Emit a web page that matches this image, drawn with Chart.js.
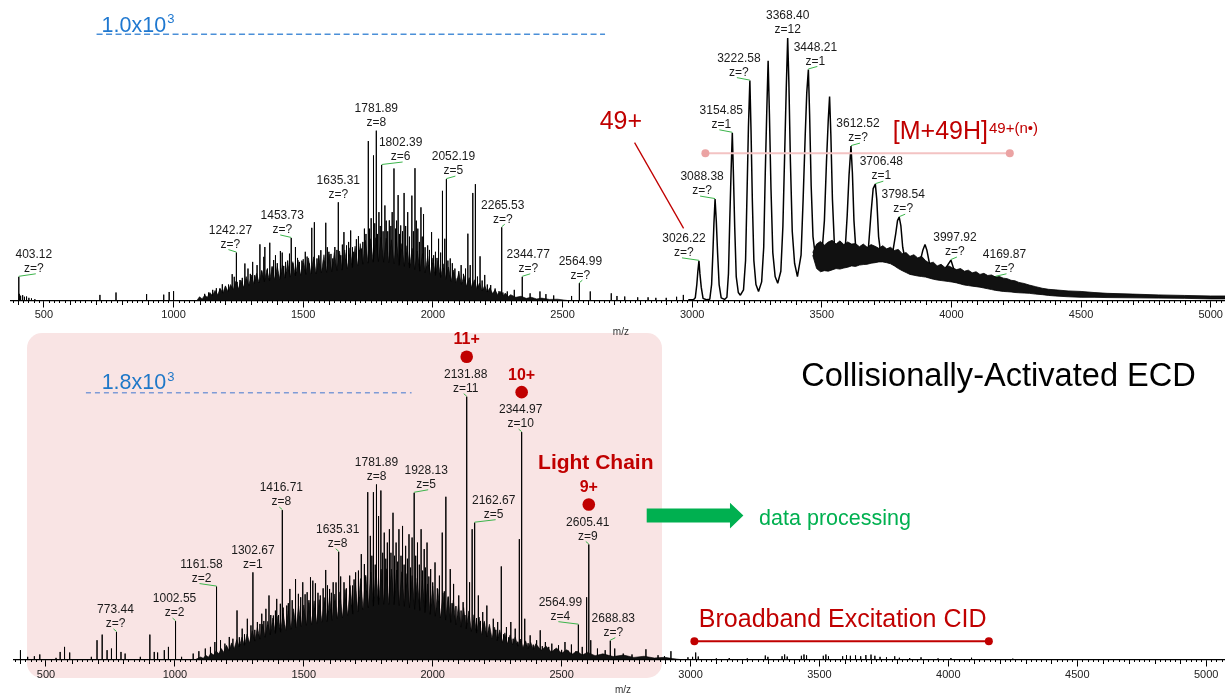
<!DOCTYPE html>
<html>
<head>
<meta charset="utf-8">
<title>Collisionally-Activated ECD</title>
<script src="https://cdn.jsdelivr.net/npm/chart.js@4.4.1/dist/chart.umd.min.js"></script>
<style>
  html, body { margin: 0; padding: 0; background: #fff; }
  #wrap { position: relative; width: 1225px; height: 696px; overflow: hidden; }
  #top { position: absolute; left: 0; top: 0; z-index: 2; }
  #bot { position: absolute; left: 0; top: 330px; z-index: 1; }
</style>
</head>
<body>
<div id="wrap">
  <canvas id="bot" width="1225" height="366" style="width:1225px;height:366px"></canvas>
  <canvas id="top" width="1225" height="345" style="width:1225px;height:345px"></canvas>
</div>
<script>
// ---------------------------------------------------------------
// Shared axis
// ---------------------------------------------------------------
const tickValues = [500, 1000, 1500, 2000, 2500, 3000, 3500, 4000, 4500, 5000];

// ---------------------------------------------------------------
// Upper spectrum (charge-reduced precursor, scale 1.0x10^3)
// ---------------------------------------------------------------
const topLabeledMz  = [403.12, 1242.27, 1453.73, 1635.31, 1781.89, 1802.39, 2052.19, 2265.53, 2344.77, 2564.99,
                       3026.22, 3088.38, 3154.85, 3222.58, 3368.40, 3448.21, 3612.52, 3706.48, 3798.54, 3997.92, 4169.87];
const topLabeledInt = [89, 180, 235, 369, 638, 509, 456, 275, 89, 65,
                       149, 381, 630, 826, 986, 868, 580, 437, 313, 152, 89];
const topLabeledZ   = ['?', '?', '?', '?', '8', '6', '5', '?', '?', '?',
                       '?', '?', '1', '?', '12', '1', '?', '1', '?', '?', '?'];

const topSticks = [
  [405,25],[410,18],[418,20],[425,14],[433,15],[442,10],[452,8],[465,5],
  [716,21],[778,30],[896,24],[962,22],[983,32],[1000,35],
  [1151,40],[1165,46],[1188,61],[1200,52],[1226,99],[1234,89],[1256,77],[1275,139],[1287,120],[1305,145],
  [1322,133],[1333,211],[1348,164],[1352,201],[1371,217],[1386,152],[1393,170],[1412,186],[1419,180],[1432,145],
  [1447,176],[1470,201],[1485,145],[1508,183],[1523,139],[1533,273],[1543,294],[1553,158],[1568,189],[1587,292],
  [1599,183],[1614,158],[1622,201],[1645,170],[1657,257],[1667,207],[1683,263],[1695,183],[1713,242],[1724,195],
  [1736,270],[1751,599],[1762,309],[1771,545],[1792,332],[1815,357],[1832,301],[1843,332],[1850,496],[1866,396],
  [1876,282],[1889,404],[1903,332],[1919,394],[1931,497],[1942,270],[1954,350],[1964,325],[1980,207],[1995,257],
  [2010,183],[2022,232],[2037,412],[2046,232],[2067,158],[2094,83],[2109,133],[2135,251],[2144,133],[2154,404],
  [2164,437],[2182,166],[2200,96],[2223,58],[2287,34],[2314,40],[2375,27],[2413,34],[2436,24],[2466,19],
  [2535,17],[2607,34],[2688,27],[2710,17],[2740,15],[2790,12],[2830,12],[2860,10],[2900,10],[2940,14],[2966,21],
  [1120,25],[1135,30],[1178,45],[1212,60],[1245,70],[1265,85],[1296,100],[1313,95],[1340,110],[1362,120],
  [1380,128],[1400,140],[1425,130],[1440,150],[1460,140],[1478,160],[1495,150],[1515,165],[1560,170],[1578,150],
  [1593,200],[1607,175],[1630,190],[1651,210],[1675,220],[1690,200],[1705,230],[1718,190],[1730,220],[1742,250],
  [1756,270],[1776,290],[1786,250],[1797,280],[1808,260],[1820,300],[1826,260],[1838,280],[1856,270],[1860,300],
  [1871,250],[1883,260],[1895,280],[1910,240],[1925,260],[1936,300],[1948,220],[1959,240],[1970,200],[1987,190],
  [2003,170],[2016,160],[2030,180],[2058,150],[2075,140],[2085,120],[2100,110],[2118,100],[2126,120],[2172,90],
  [2190,75],[2210,60],[2240,45],[2255,35],[2270,30]
];

// dense fragment "grass" outline
const topGrass = [
  [1090,0],[1100,14],[1110,6],[1120,20],[1130,12],[1140,30],[1150,18],[1160,38],[1170,22],[1180,45],[1190,28],
  [1200,55],[1210,34],[1220,60],[1230,40],[1240,72],[1250,44],[1260,76],[1270,50],[1280,90],[1290,56],
  [1300,96],[1310,62],[1320,102],[1330,66],[1340,114],[1350,70],[1360,116],[1370,74],[1380,124],[1390,78],
  [1400,128],[1410,80],[1420,134],[1430,84],[1440,142],[1450,88],[1460,146],[1470,92],[1480,152],[1490,95],
  [1500,156],[1510,98],[1520,160],[1530,100],[1540,164],[1550,100],[1560,166],[1570,104],[1580,172],[1590,106],
  [1600,174],[1610,108],[1620,180],[1630,112],[1640,186],[1650,114],[1660,190],[1670,120],[1680,198],[1690,124],
  [1700,204],[1710,130],[1720,214],[1730,136],[1740,226],[1750,140],[1760,232],[1770,144],[1780,236],[1790,146],
  [1800,238],[1810,144],[1820,234],[1830,142],[1840,228],[1850,138],[1860,222],[1870,132],[1880,214],[1890,128],
  [1900,206],[1910,122],[1920,196],[1930,116],[1940,186],[1950,110],[1960,176],[1970,104],[1980,166],[1990,98],
  [2000,160],[2010,94],[2020,150],[2030,86],[2040,138],[2050,80],[2060,126],[2070,72],[2080,114],[2090,66],
  [2100,104],[2110,60],[2120,94],[2130,54],[2140,86],[2150,50],[2160,78],[2170,44],[2180,66],[2190,36],
  [2200,56],[2210,32],[2220,48],[2230,26],[2240,40],[2250,22],[2260,34],[2270,18],[2280,28],[2290,14],
  [2300,22],[2320,12],[2340,16],[2360,8],[2380,12],[2400,6],[2420,9],[2450,4],[2480,5],[2520,0]
];

const topProfile = [
  [2985,3],[3005,3],[3012,10],[3018,60],[3022,110],[3030,100],[3035,50],[3042,8],[3055,3],
  [3068,5],[3075,60],[3080,180],[3084,290],[3093,300],[3098,180],[3104,60],[3112,10],[3125,4],
  [3134,12],[3140,100],[3145,300],[3150,480],[3159,480],[3164,280],[3170,90],[3178,30],[3186,20],
  [3198,40],[3206,150],[3212,420],[3217,650],[3227,640],[3232,380],[3238,150],[3246,60],[3256,34],
  [3268,70],[3276,200],[3282,480],[3288,720],[3293,901],[3298,700],[3304,420],[3311,180],[3320,90],[3330,65],
  [3342,110],[3350,280],[3357,560],[3363,800],[3373,820],[3379,520],[3386,260],[3395,140],[3406,90],
  [3420,170],[3428,380],[3436,620],[3442,780],[3453,700],[3459,430],[3466,240],[3476,160],[3488,150],
  [3500,170],[3510,300],[3518,520],[3525,680],[3530,766],[3535,620],[3541,380],[3549,200],[3560,160],[3575,180],
  [3590,190],[3598,320],[3605,470],[3618,480],[3624,300],[3632,180],[3650,175],[3665,185],
  [3680,200],[3690,330],[3698,420],[3712,380],[3719,240],[3728,170],[3750,175],
  [3775,190],[3785,250],[3792,300],[3805,280],[3812,200],[3822,150],[3850,135],
  [3880,150],[3890,190],[3898,210],[3905,190],[3915,140],[3940,120],[3970,110],[4010,115],[4040,100],
  [4080,85],[4130,75],[4200,68],[4260,55],[4300,45],[4400,32],[4500,24],[4650,18],[4800,14],[5000,12],[5055,12]
];

// noise band under the charge-state envelope
const topBandMz = [3465,3480,3495,3510,3525,3540,3555,3570,3585,3600,3615,3630,3645,3660,3675,3690,3705,3720,3735,3750,
  3765,3780,3795,3810,3825,3840,3855,3870,3885,3900,3915,3930,3945,3960,3975,3990,4005,4020,4035,4050,
  4065,4080,4095,4110,4125,4140,4155,4170,4185,4200,4215,4230,4245,4260,4280,4300,4325,4350,4375,4400,
  4450,4500,4550,4600,4700,4800,4900,5000,5055];
const topBandHigh = [180,212,222,208,220,226,212,224,210,220,212,214,202,212,200,210,204,196,206,194,
  200,188,192,176,180,166,172,160,166,150,140,144,130,136,124,130,122,116,120,110,
  114,104,108,98,102,94,96,88,90,84,82,76,74,68,64,58,52,46,42,40,
  36,34,30,27,24,21,19,17,17];
const topBandLow = [170,120,108,112,110,115,120,118,122,125,130,128,133,135,136,140,142,145,145,142,
  138,130,120,112,105,98,95,92,90,88,84,80,77,75,73,71,69,66,62,58,
  56,54,52,50,47,44,41,38,36,34,33,32,30,29,28,27,24,22,19,17,
  14,12,12,11,10,9,8,6,6];

// ---------------------------------------------------------------
// Lower spectrum (broadband excitation CID, scale 1.8x10^3)
// ---------------------------------------------------------------
const botLabeledMz  = [773.44, 1002.55, 1161.58, 1302.67, 1416.71, 1635.31, 1781.89, 1928.13, 2131.88, 2162.67,
                       2344.97, 2564.99, 2605.41, 2688.83];
const botLabeledInt = [186, 259, 492, 588, 1008, 727, 1181, 1125, 1773, 923, 1534, 235, 776, 127];
const botLabeledZ   = ['?', '2', '2', '1', '8', '8', '8', '5', '11', '5', '10', '4', '9', '?'];

const botChargeStates = ['11+', '10+', '9+'];
const botChargeMz     = [2131.88, 2344.97, 2605.41];

const botSticks = [
  [401,63],[429,18],[455,22],[476,34],[539,11],[555,51],[572,85],[592,47],[676,18],[698,130],[718,168],[737,63],
  [754,74],[791,51],[807,40],[866,18],[903,168],[920,51],[933,47],[959,63],[975,85],[1026,18],[1071,40],[1093,56],
  [1118,74],[1138,85],[1155,118],[1177,130],[1194,107],[1211,152],[1241,331],[1261,208],[1281,275],[1295,230],
  [1320,253],[1337,309],[1353,342],[1365,432],[1382,297],[1395,409],[1409,376],[1434,364],[1446,476],[1468,543],
  [1479,443],[1496,521],[1513,454],[1526,555],[1535,532],[1545,514],[1564,432],[1585,604],[1600,476],[1614,521],
  [1656,521],[1678,566],[1689,499],[1701,588],[1723,711],[1735,644],[1748,1129],[1758,834],[1770,1129],[1790,968],
  [1799,1140],[1812,856],[1824,789],[1832,879],[1846,990],[1858,789],[1869,879],[1883,901],[1895,767],[1908,845],
  [1920,823],[1941,789],[1955,879],[1967,745],[1978,789],[1992,610],[2009,655],[2026,566],[2037,856],[2051,1098],
  [2068,610],[2081,510],[2101,432],[2118,387],[2143,521],[2153,879],[2177,432],[2194,320],[2210,364],[2235,275],
  [2252,253],[2266,628],[2286,219],[2303,253],[2320,208],[2336,812],[2357,275],[2378,163],[2403,130],[2417,197],
  [2437,118],[2462,107],[2488,96],[2513,118],[2538,101],[2580,85],[2597,420],[2613,130],[2639,74],[2669,63],
  [2706,74],[2739,40],[2773,34],[2827,69],[2874,29],[2899,22],[2924,56],[2990,15],[3008,18],[3020,47],[3030,20],
  [3100,8],[3150,10],[3220,8],[3290,27],[3300,18],[3355,22],[3365,34],[3375,20],[3430,25],[3440,34],[3450,28],
  [3515,25],[3525,34],[3535,22],[3590,22],[3605,30],[3620,25],[3640,28],[3660,22],[3680,30],[3700,33],[3715,25],
  [3735,18],[3760,15],[3792,22],[3810,12],[3850,10],[3894,15],[3960,8],[4010,10],[4090,12],[4250,6],
  [1200,90],[1225,140],[1250,150],[1270,170],[1310,200],[1330,240],[1345,260],[1372,300],[1390,330],[1402,300],
  [1420,350],[1440,380],[1455,400],[1488,420],[1505,440],[1520,400],[1555,450],[1575,480],[1592,500],[1607,450],
  [1625,520],[1643,560],[1665,480],[1695,540],[1712,600],[1740,560],[1764,700],[1777,640],[1806,720],[1818,680],
  [1838,720],[1852,700],[1864,660],[1877,700],[1889,640],[1902,680],[1914,620],[1934,700],[1948,640],[1961,600],
  [1972,620],[1985,560],[2000,520],[2018,480],[2045,460],[2060,420],[2075,380],[2090,360],[2110,330],[2125,300],
  [2170,280],[2185,260],[2200,250],[2220,220],[2245,200],[2275,170],[2295,150],[2312,140],[2330,120],[2370,110],
  [2390,100],[2425,90],[2450,85],[2475,70],[2500,65],[2525,60],[2555,55]
];

const botGrass = [
  [1080,0],[1100,17],[1110,8],[1120,28],[1130,16],[1140,44],[1150,30],[1160,58],[1170,38],[1180,74],[1190,48],
  [1200,96],[1210,60],[1220,112],[1230,72],[1240,134],[1250,86],[1260,150],[1270,96],[1280,172],[1290,112],
  [1300,194],[1310,124],[1320,216],[1330,138],[1340,238],[1350,150],[1360,258],[1370,166],[1380,280],[1390,176],
  [1400,292],[1410,184],[1420,310],[1430,196],[1440,328],[1450,204],[1460,342],[1470,214],[1480,360],[1490,222],
  [1500,368],[1510,230],[1520,384],[1530,236],[1540,396],[1550,242],[1560,404],[1570,252],[1580,418],[1590,256],
  [1600,426],[1610,264],[1620,442],[1630,276],[1640,456],[1650,280],[1660,472],[1670,296],[1680,500],[1690,306],
  [1700,518],[1710,322],[1720,546],[1730,336],[1740,570],[1750,350],[1760,590],[1770,360],[1780,606],[1790,370],
  [1800,610],[1810,372],[1820,612],[1830,372],[1840,610],[1850,370],[1860,604],[1870,364],[1880,592],[1890,358],
  [1900,580],[1910,350],[1920,566],[1930,338],[1940,548],[1950,330],[1960,532],[1970,316],[1980,510],[1990,304],
  [2000,494],[2010,292],[2020,474],[2030,280],[2040,450],[2050,266],[2060,426],[2070,250],[2080,400],[2090,234],
  [2100,368],[2110,218],[2120,350],[2130,206],[2140,328],[2150,190],[2160,302],[2170,178],[2180,286],[2190,166],
  [2200,260],[2210,152],[2220,238],[2230,140],[2240,218],[2250,126],[2260,200],[2270,116],[2280,180],[2290,106],
  [2300,166],[2310,98],[2320,152],[2330,90],[2340,138],[2350,80],[2360,126],[2370,74],[2380,116],[2390,68],
  [2400,106],[2420,62],[2440,90],[2460,50],[2480,78],[2500,42],[2520,66],[2540,36],[2560,56],[2580,30],
  [2600,48],[2630,26],[2660,38],[2700,20],[2740,30],[2780,14],[2820,22],[2860,10],[2900,15],[2930,6],[2960,0]
];

// ---------------------------------------------------------------
// Drawing helpers
// ---------------------------------------------------------------
const FONT = '"Liberation Sans", Arial, Helvetica, sans-serif';
const RED = '#c00000';
const GREEN = '#00b050';

const toXY = pairs => pairs.slice().sort((a, b) => a[0] - b[0]).map(([x, y]) => ({ x, y }));
function stickTrace(pairs) {
  const pts = [];
  pairs.slice().sort((a, b) => a[0] - b[0]).forEach(([m, v]) => {
    pts.push({ x: m, y: 0 }, { x: m, y: v }, { x: m, y: 0 });
  });
  return pts;
}

function drawMinorTicks(chart) {
  const xs = chart.scales.x, ctx = chart.ctx, yb = chart.chartArea.bottom;
  ctx.save();
  ctx.strokeStyle = '#000';
  ctx.lineWidth = 1;
  ctx.beginPath();
  for (let m = Math.ceil(xs.min / 20) * 20; m <= xs.max; m += 20) {
    if (m % 500 === 0) continue;
    const len = m % 100 === 0 ? 4.5 : 2.5;
    const x = Math.round(xs.getPixelForValue(m)) + 0.5;
    ctx.moveTo(x, yb);
    ctx.lineTo(x, yb + len);
  }
  ctx.stroke();
  ctx.restore();
}

function drawPeakLabels(chart, mzs, ints, zs, shifts) {
  const { ctx } = chart, xs = chart.scales.x, ys = chart.scales.y;
  ctx.save();
  ctx.font = '12px ' + FONT;
  ctx.textAlign = 'center';
  ctx.textBaseline = 'middle';
  mzs.forEach((m, i) => {
    const px = xs.getPixelForValue(m), py = ys.getPixelForValue(ints[i]);
    const dx = shifts[i] || 0, lx = px + dx;
    ctx.fillStyle = '#1a1a1a';
    ctx.fillText(m.toFixed(2), lx, py - 22);
    ctx.fillText('z=' + zs[i], lx, py - 8);
    if (dx !== 0) {
      ctx.strokeStyle = '#3cb44b';
      ctx.lineWidth = 1;
      ctx.beginPath();
      ctx.moveTo(px, py - 0.5);
      ctx.lineTo(lx + Math.sign(dx) * 2, py - 3);
      ctx.stroke();
    }
  });
  ctx.restore();
}

function textWithSup(ctx, base, sup, x, y, size, supSize, rise, color) {
  ctx.save();
  ctx.fillStyle = color;
  ctx.textAlign = 'left';
  ctx.textBaseline = 'middle';
  ctx.font = size + 'px ' + FONT;
  ctx.fillText(base, x, y);
  const w = ctx.measureText(base).width;
  ctx.font = supSize + 'px ' + FONT;
  ctx.fillText(sup, x + w + 1, y - rise);
  ctx.restore();
}

function dashedLevel(ctx, x0, x1, y, color, dash) {
  ctx.save();
  ctx.strokeStyle = color;
  ctx.lineWidth = 1.5;
  ctx.setLineDash(dash);
  ctx.beginPath();
  ctx.moveTo(x0, y);
  ctx.lineTo(x1, y);
  ctx.stroke();
  ctx.restore();
}

function rangeBar(ctx, x0, x1, y, lineColor, dotColor, width, r) {
  ctx.save();
  ctx.strokeStyle = lineColor;
  ctx.lineWidth = width;
  ctx.beginPath();
  ctx.moveTo(x0, y);
  ctx.lineTo(x1, y);
  ctx.stroke();
  ctx.fillStyle = dotColor;
  [x0, x1].forEach(x => { ctx.beginPath(); ctx.arc(x, y, r, 0, Math.PI * 2); ctx.fill(); });
  ctx.restore();
}

function plainText(ctx, txt, x, y, font, color, align) {
  ctx.save();
  ctx.font = font;
  ctx.fillStyle = color;
  ctx.textAlign = align || 'left';
  ctx.textBaseline = 'middle';
  ctx.fillText(txt, x, y);
  ctx.restore();
}

// label offsets (px) to keep neighbouring annotations apart
const topLabelShift = [15, -6, -9, 0, 0, 19, 7, 1, 6, 1, -15, -13, -11, -11, 0, 7, 7, 6, 4, 4, 9];
const botLabelShift = [-1, -1, -15, 0, -1, -1, 0, 12, -1, 19, -1, -18, -1, 3];

function xAxis(min, max, pad) {
  return {
    type: 'linear', min, max,
    afterBuildTicks: s => { s.ticks = tickValues.map(v => ({ value: v })); },
    grid: { display: true, drawOnChartArea: false, drawTicks: true, tickLength: 7, color: '#000', lineWidth: 1 },
    border: { display: true, color: '#000', width: 1.2 },
    ticks: { font: { family: FONT, size: 11 }, color: '#222', padding: pad, maxRotation: 0, autoSkip: false,
             callback: v => String(v) }
  };
}

// ---------------------------------------------------------------
// Upper chart
// ---------------------------------------------------------------
const topStickPairs = topSticks.slice();
const topProfilePairs = topProfile.slice();
topLabeledMz.forEach((m, i) => (m < 2950 ? topStickPairs : topProfilePairs).push([m, topLabeledInt[i]]));

const topDecor = {
  id: 'topDecor',
  afterDraw(chart) {
    const ctx = chart.ctx, xs = chart.scales.x, ys = chart.scales.y;
    const X = v => xs.getPixelForValue(v), Y = v => ys.getPixelForValue(v);
    drawMinorTicks(chart);
    drawPeakLabels(chart, topLabeledMz, topLabeledInt, topLabeledZ, topLabelShift);

    // full-scale level
    dashedLevel(ctx, X(703), X(2664), Y(1000), '#4a8fd8', [6, 3.5]);
    textWithSup(ctx, '1.0x10', '3', X(722.5), Y(1032), 21.5, 13, 6, '#1f78d0');

    // precursor charge state
    plainText(ctx, '49+', X(2725), Y(672), '25px ' + FONT, RED, 'center');
    ctx.save();
    ctx.strokeStyle = RED;
    ctx.lineWidth = 1.3;
    ctx.beginPath();
    ctx.moveTo(X(2778), Y(593));
    ctx.lineTo(X(2967), Y(271));
    ctx.stroke();
    ctx.restore();

    rangeBar(ctx, X(3051), X(4225), Y(553), '#f3c3c3', '#eba3a3', 2, 4);
    textWithSup(ctx, '[M+49H]', '49+(n\u2022)', X(3774), Y(631), 25, 15, 4, RED);

    plainText(ctx, 'm/z', X(2725), Y(-118), '10px ' + FONT, '#333', 'center');
  }
};

new Chart(document.getElementById('top'), {
  type: 'line',
  data: {
    datasets: [
      { data: toXY(topGrass), fill: 'origin', backgroundColor: '#111', borderColor: '#000', borderWidth: 0.6 },
      { data: stickTrace(topStickPairs), borderColor: '#000', borderWidth: 1, fill: false },
      { data: topBandMz.map((m, i) => ({ x: m, y: topBandLow[i] })), borderColor: '#000', borderWidth: 0.8, fill: false },
      { data: topBandMz.map((m, i) => ({ x: m, y: topBandHigh[i] })), borderColor: '#000', borderWidth: 0.8, fill: '-1', backgroundColor: '#111' },
      { data: toXY(topProfilePairs), borderColor: '#000', borderWidth: 1.5, fill: false }
    ]
  },
  options: {
    responsive: false,
    animation: false,
    devicePixelRatio: 1,
    layout: { padding: { left: 11, right: 0, top: 34.3, bottom: 22.3 } },
    plugins: { legend: { display: false }, tooltip: { enabled: false } },
    elements: { point: { radius: 0 }, line: { tension: 0, borderJoinStyle: 'bevel' } },
    scales: { x: xAxis(373, 5055, 1), y: { display: false, min: 0, max: 1000 } }
  },
  plugins: [topDecor]
});

// ---------------------------------------------------------------
// Lower chart
// ---------------------------------------------------------------
const botStickPairs = botSticks.slice();
botLabeledMz.forEach((m, i) => botStickPairs.push([m, botLabeledInt[i]]));

const botDecor = {
  id: 'botDecor',
  beforeDraw(chart) {
    const ctx = chart.ctx;
    ctx.save();
    ctx.fillStyle = '#f9e4e4';
    ctx.beginPath();
    ctx.roundRect(27, 3, 635, 345, 15);
    ctx.fill();
    ctx.restore();
  },
  afterDraw(chart) {
    const ctx = chart.ctx, xs = chart.scales.x, ys = chart.scales.y;
    const X = v => xs.getPixelForValue(v), Y = v => ys.getPixelForValue(v);
    drawMinorTicks(chart);
    drawPeakLabels(chart, botLabeledMz, botLabeledInt, botLabeledZ, botLabelShift);

    dashedLevel(ctx, X(655), X(1918), Y(1800), '#7f9bd6', [5, 4]);
    textWithSup(ctx, '1.8x10', '3', X(716), Y(1865), 21.5, 13, 6, '#1f78c8');

    // light-chain charge states
    botChargeMz.forEach((m, i) => {
      const k = botLabeledMz.indexOf(m);
      const px = X(m), py = Y(botLabeledInt[k]);
      ctx.save();
      ctx.fillStyle = RED;
      ctx.beginPath();
      ctx.arc(px, py - 40, 6.3, 0, Math.PI * 2);
      ctx.fill();
      ctx.restore();
      plainText(ctx, botChargeStates[i], px, py - 57, 'bold 16px ' + FONT, RED, 'center');
      if (botChargeStates[i] === '9+') {
        plainText(ctx, 'Light Chain', px + 7, py - 81, 'bold 21px ' + FONT, RED, 'center');
      }
    });

    // processing arrow
    const ax0 = X(2830), axh = X(3153), axt = X(3205), ay = Y(971);
    ctx.save();
    ctx.fillStyle = GREEN;
    ctx.beginPath();
    ctx.moveTo(ax0, ay - 7);
    ctx.lineTo(axh, ay - 7);
    ctx.lineTo(axh, ay - 12.9);
    ctx.lineTo(axt, ay);
    ctx.lineTo(axh, ay + 12.9);
    ctx.lineTo(axh, ay + 7);
    ctx.lineTo(ax0, ay + 7);
    ctx.closePath();
    ctx.fill();
    ctx.restore();
    plainText(ctx, 'data processing', X(3266), Y(959) + 2, '21.5px ' + FONT, GREEN, 'left');

    plainText(ctx, 'Collisionally-Activated ECD', X(3429), Y(1907), '32.6px ' + FONT, '#000', 'left');

    plainText(ctx, 'Broadband Excitation CID', X(3590), Y(264), '25px ' + FONT, RED, 'center');
    rangeBar(ctx, X(3015), X(4157), Y(123), RED, RED, 2, 4);

    plainText(ctx, 'm/z', X(2738), Y(-206), '10px ' + FONT, '#333', 'center');
  }
};

new Chart(document.getElementById('bot'), {
  type: 'line',
  data: {
    datasets: [
      { data: toXY(botGrass), fill: 'origin', backgroundColor: '#111', borderColor: '#000', borderWidth: 0.6 },
      { data: stickTrace(botStickPairs), borderColor: '#000', borderWidth: 1, fill: false }
    ]
  },
  options: {
    responsive: false,
    animation: false,
    devicePixelRatio: 1,
    layout: { padding: { left: 14, right: 0, top: 62.7, bottom: 13.3 } },
    plugins: { legend: { display: false }, tooltip: { enabled: false } },
    elements: { point: { radius: 0 }, line: { tension: 0, borderJoinStyle: 'bevel' } },
    scales: { x: xAxis(376, 5073, 1.5), y: { display: false, min: 0, max: 1800 } }
  },
  plugins: [botDecor]
});
</script>
</body>
</html>
